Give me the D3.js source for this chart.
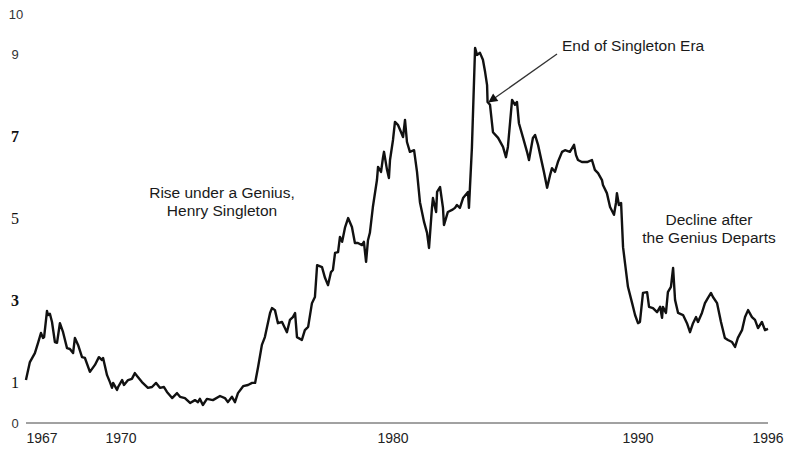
<!DOCTYPE html>
<html>
<head>
<meta charset="utf-8">
<script src="https://cdn.jsdelivr.net/npm/d3@7"></script>
<style>
  html, body { margin: 0; padding: 0; background: #fff; }
  #chart { width: 792px; height: 450px; }
  .note { font-family: "Liberation Sans", Arial, sans-serif; font-size: 15.5px; fill: #1a1a1a; }
</style>
</head>
<body>
<div id="chart"></div>
<script>
// stock price (year, price)
const dates = [
  1966.39, 1966.54, 1966.73, 1966.85, 1966.96, 1967.04, 1967.08, 1967.19, 1967.23, 1967.30,
  1967.38, 1967.49, 1967.57, 1967.68, 1967.80, 1967.95, 1968.06, 1968.18, 1968.25, 1968.37,
  1968.52, 1968.63, 1968.82, 1969.01, 1969.16, 1969.28, 1969.32, 1969.47, 1969.58, 1969.66,
  1969.70, 1969.85, 1969.89, 1970.04, 1970.11, 1970.26, 1970.40, 1970.51, 1970.59, 1970.77,
  1970.99, 1971.14, 1971.29, 1971.43, 1971.58, 1971.69, 1971.88, 1972.06, 1972.17, 1972.35,
  1972.54, 1972.72, 1972.83, 1972.90, 1973.01, 1973.16, 1973.38, 1973.64, 1973.82, 1973.93,
  1974.08, 1974.19, 1974.30, 1974.49, 1974.67, 1974.82, 1974.93, 1975.04, 1975.18, 1975.29,
  1975.48, 1975.55, 1975.66, 1975.77, 1975.92, 1976.10, 1976.21, 1976.32, 1976.40, 1976.47,
  1976.65, 1976.76, 1976.88, 1977.02, 1977.13, 1977.21, 1977.39, 1977.50, 1977.61, 1977.72,
  1977.79, 1977.87, 1977.98, 1978.05, 1978.13, 1978.24, 1978.35, 1978.49, 1978.60, 1978.71,
  1978.86, 1978.93, 1979.01, 1979.08, 1979.15, 1979.26, 1979.41, 1979.45, 1979.56, 1979.63,
  1979.67, 1979.78, 1979.85, 1979.89, 1980.00, 1980.08, 1980.20, 1980.33, 1980.41, 1980.49,
  1980.57, 1980.69, 1980.86, 1980.98, 1981.10, 1981.27, 1981.39, 1981.47, 1981.59, 1981.63,
  1981.76, 1981.80, 1981.92, 1982.04, 1982.08, 1982.24, 1982.41, 1982.53, 1982.61, 1982.73,
  1982.86, 1983.02, 1983.06, 1983.10, 1983.22, 1983.35, 1983.43, 1983.55, 1983.67, 1983.76,
  1983.84, 1983.86, 1983.96, 1984.08, 1984.29, 1984.49, 1984.61, 1984.69, 1984.86, 1984.98,
  1985.06, 1985.14, 1985.31, 1985.47, 1985.55, 1985.71, 1985.80, 1985.92, 1986.08, 1986.16,
  1986.29, 1986.41, 1986.49, 1986.61, 1986.73, 1986.90, 1987.02, 1987.22, 1987.39, 1987.47,
  1987.55, 1987.71, 1987.92, 1988.12, 1988.24, 1988.37, 1988.53, 1988.57, 1988.73, 1988.86,
  1989.02, 1989.10, 1989.14, 1989.22, 1989.31, 1989.39, 1989.47, 1989.59, 1989.76, 1989.88,
  1990.00, 1990.09, 1990.23, 1990.42, 1990.51, 1990.69, 1990.88, 1991.02, 1991.11, 1991.15,
  1991.29, 1991.38, 1991.52, 1991.62, 1991.71, 1991.85, 1992.08, 1992.26, 1992.40, 1992.54,
  1992.68, 1992.77, 1992.95, 1993.09, 1993.23, 1993.37, 1993.46, 1993.65, 1993.83, 1994.01,
  1994.15, 1994.34, 1994.48, 1994.61, 1994.80, 1994.94, 1995.08, 1995.26, 1995.40, 1995.54,
  1995.72, 1995.86, 1996.00
];
const prices = [
  1.05, 1.49, 1.71, 1.96, 2.20, 2.08, 2.10, 2.74, 2.64, 2.67,
  2.47, 1.98, 1.96, 2.44, 2.22, 1.83, 1.81, 1.71, 2.08, 1.91,
  1.61, 1.59, 1.25, 1.42, 1.61, 1.54, 1.59, 1.17, 1.00, 0.86,
  0.98, 0.81, 0.88, 1.05, 0.93, 1.05, 1.08, 1.22, 1.15, 1.00,
  0.86, 0.88, 0.98, 0.86, 0.88, 0.76, 0.61, 0.73, 0.64, 0.61,
  0.49, 0.56, 0.51, 0.59, 0.44, 0.59, 0.56, 0.66, 0.61, 0.51,
  0.64, 0.51, 0.73, 0.90, 0.93, 0.98, 0.98, 1.37, 1.91, 2.10,
  2.69, 2.81, 2.76, 2.44, 2.47, 2.22, 2.52, 2.59, 2.69, 2.10,
  2.03, 2.27, 2.35, 2.93, 3.08, 3.86, 3.81, 3.55, 3.37, 3.69,
  3.74, 4.16, 4.18, 4.55, 4.43, 4.79, 5.01, 4.79, 4.40, 4.40,
  4.35, 4.43, 3.94, 4.47, 4.65, 5.28, 5.94, 6.26, 6.14, 6.48,
  6.63, 6.19, 5.99, 6.43, 6.92, 7.36, 7.29, 7.11, 6.99, 7.41,
  6.87, 6.63, 6.67, 6.14, 5.40, 4.91, 4.65, 4.28, 5.26, 5.50,
  5.16, 5.65, 5.77, 5.26, 4.84, 5.16, 5.21, 5.26, 5.33, 5.26,
  5.50, 5.62, 5.65, 5.26, 6.72, 9.17, 9.00, 9.05, 8.88, 8.58,
  8.26, 7.85, 7.78, 7.11, 6.97, 6.75, 6.50, 6.75, 7.90, 7.78,
  7.85, 7.33, 6.97, 6.63, 6.43, 6.97, 7.04, 6.80, 6.36, 6.14,
  5.75, 6.06, 6.23, 6.14, 6.38, 6.63, 6.67, 6.63, 6.80, 6.55,
  6.43, 6.38, 6.38, 6.43, 6.19, 6.11, 5.94, 5.82, 5.62, 5.28,
  5.09, 5.38, 5.62, 5.33, 5.38, 4.30, 3.91, 3.33, 2.93, 2.64,
  2.44, 2.47, 3.18, 3.20, 2.84, 2.81, 2.71, 2.84, 2.57, 2.84,
  2.69, 3.20, 3.33, 3.79, 3.01, 2.69, 2.64, 2.44, 2.22, 2.44,
  2.59, 2.47, 2.69, 2.93, 3.06, 3.18, 3.08, 2.93, 2.47, 2.08,
  2.03, 1.98, 1.86, 2.08, 2.27, 2.59, 2.76, 2.59, 2.52, 2.32,
  2.47, 2.27, 2.30
];

// axis labels as printed on the chart
const yTicks = [0, 1, 3, 5, 7, 9, 10];
const xTicks = [1967, 1970, 1980, 1990, 1996];

const riseNote = ["Rise under a Genius,", "Henry Singleton"];
const declineNote = ["Decline after", "the Genius Departs"];
const endNote = "End of Singleton Era";
const endYear = 1983.96;   // where the arrow points
const endPrice = 7.8;

const width = 792, height = 450;

// the scanned time axis is uneven, so the scale is piecewise between the labels
const x = d3.scaleLinear()
    .domain(xTicks)
    .range([42, 121, 393, 638, 768]);

const y = d3.scaleLinear()
    .domain([0, 10])
    .range([423, 14]);

const svg = d3.select("#chart")
    .append("svg")
    .attr("width", width)
    .attr("height", height);

svg.append("defs").append("marker")
    .attr("id", "arrow")
    .attr("viewBox", "0 0 10 10")
    .attr("refX", 9)
    .attr("refY", 5)
    .attr("markerWidth", 9)
    .attr("markerHeight", 7)
    .attr("orient", "auto")
    .append("path")
    .attr("d", "M0,0 L10,5 L0,10 Z")
    .attr("fill", "#111");

// baseline
svg.append("line")
    .attr("x1", 26)
    .attr("x2", x(1996))
    .attr("y1", y(0))
    .attr("y2", y(0))
    .attr("stroke", "#444")
    .attr("stroke-width", 1);

// y labels - the scan mixes a sans face and a serif face
const isSans = d => d === 0 || d >= 9;

svg.selectAll(".ylab")
    .data(yTicks)
    .enter()
    .append("text")
    .attr("class", "ylab")
    .attr("x", d => d === 10 ? 16 : 15)
    .attr("y", d => y(d))
    .attr("dy", "0.35em")
    .attr("text-anchor", "middle")
    .attr("font-family", d => isSans(d) ? "Liberation Sans, Arial, sans-serif" : "Liberation Serif, Times New Roman, serif")
    .attr("font-weight", d => (d === 3 || d === 7) ? "bold" : "normal")
    .attr("font-size", d => isSans(d) ? 13 : 16)
    .attr("fill", d => isSans(d) ? "#333" : "#111")
    .text(d => d);

// x labels
svg.selectAll(".xlab")
    .data(xTicks)
    .enter()
    .append("text")
    .attr("class", "xlab")
    .attr("x", d => x(d))
    .attr("y", 443)
    .attr("text-anchor", "middle")
    .attr("font-family", "Liberation Sans, Arial, sans-serif")
    .attr("font-size", 14)
    .attr("fill", "#222")
    .text(d => d);

// price line
const line = d3.line()
    .x((d, i) => x(dates[i]))
    .y(d => y(d));

svg.append("path")
    .datum(prices)
    .attr("d", line)
    .attr("fill", "none")
    .attr("stroke", "#111")
    .attr("stroke-width", 2.4)
    .attr("stroke-linejoin", "round");

// notes
function twoLines(lines, cx, cy) {
    svg.append("text")
        .attr("class", "note")
        .attr("y", cy)
        .attr("text-anchor", "middle")
        .selectAll("tspan")
        .data(lines)
        .enter()
        .append("tspan")
        .attr("x", cx)
        .attr("dy", (d, i) => i === 0 ? 0 : 18)
        .text(d => d);
}

twoLines(riseNote, 222, 198);
twoLines(declineNote, 709, 225);

svg.append("text")
    .attr("class", "note")
    .attr("x", 562)
    .attr("y", 51)
    .text(endNote);

svg.append("line")
    .attr("x1", 557)
    .attr("y1", 54)
    .attr("x2", x(endYear) - 1)
    .attr("y2", y(endPrice) - 2)
    .attr("stroke", "#333")
    .attr("stroke-width", 1.3)
    .attr("marker-end", "url(#arrow)");
</script>
</body>
</html>
